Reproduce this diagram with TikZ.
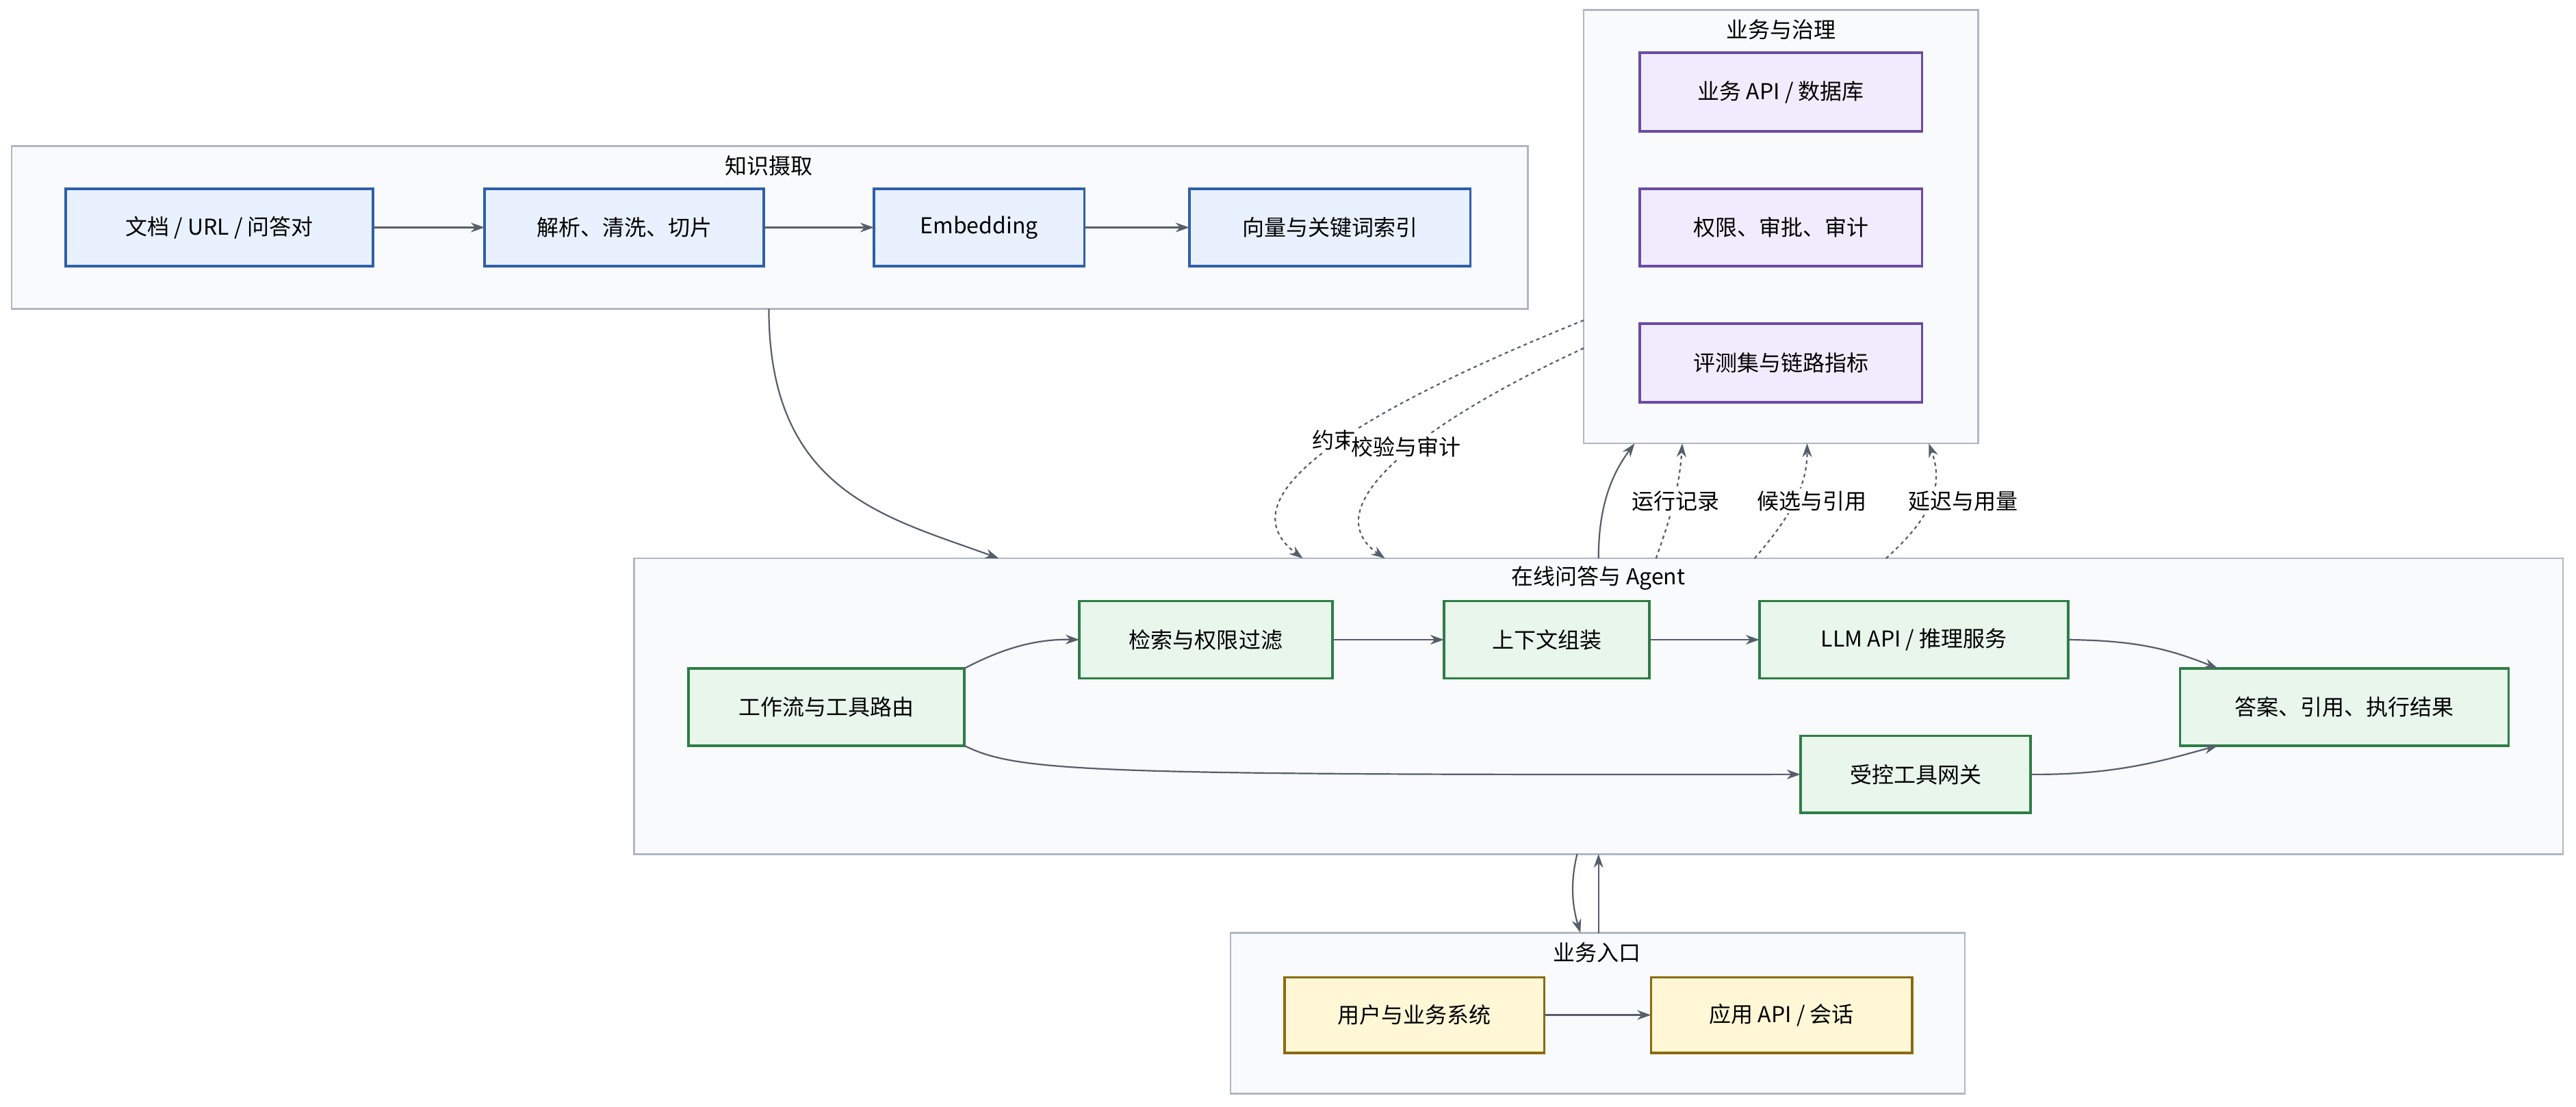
\documentclass[tikz,border=0pt]{standalone}
\usepackage{fontspec}
\setmainfont{Noto Sans CJK SC}
\usetikzlibrary{arrows.meta}
\definecolor{grpf}{HTML}{F8FAFC}\definecolor{grpd}{HTML}{B0B7C3}
\definecolor{bf}{HTML}{E8F1FD}\definecolor{bd}{HTML}{2F5FA8}
\definecolor{pf}{HTML}{F1ECFD}\definecolor{pd}{HTML}{6B4BA3}
\definecolor{gf}{HTML}{E8F6EC}\definecolor{gd}{HTML}{2E7D45}
\definecolor{yf}{HTML}{FFF7D6}\definecolor{yd}{HTML}{8B6A10}
\definecolor{ln}{HTML}{555E6B}
\begin{document}
\begin{tikzpicture}[x=2.4pt,y=-2.4pt,
 every node/.style={font=\fontsize{32}{38}\selectfont},
 grp/.style={draw=grpd,fill=grpf,line width=2.6pt},
 box/.style={line width=3.6pt},
 bx/.style={box,draw=bd,fill=bf},px/.style={box,draw=pd,fill=pf},
 gx/.style={box,draw=gd,fill=gf},yx/.style={box,draw=yd,fill=yf},
 arr/.style={draw=ln,line width=2.2pt,-{Stealth[length=20pt,width=14pt]}},
 dot/.style={arr,dash pattern=on 5pt off 5pt},
 lab/.style={fill=white,inner sep=3pt}]
\useasboundingbox (0,0) rectangle (1568,674);
\def\R#1#2#3#4#5#6#7{\path[#6] (#2,#3) rectangle (#4,#5); \node (#1) at ({(#2+#4)/2},{(#3+#5)/2}) [minimum width={(#4-#2)*2.4pt},minimum height={(#5-#3)*2.4pt},inner sep=0pt] {#7};}
% groups
\R{gk}{7}{89}{930}{188}{grp}{}
\node at (468,101) {知识摄取};
\R{gg}{964}{6}{1204}{270}{grp}{}
\node at (1084,18) {业务与治理};
\R{go}{386}{340}{1560}{520}{grp}{}
\node at (973,352) {在线问答与 Agent};
\R{ge}{749}{568}{1196}{666}{grp}{}
\node at (972,580) {业务入口};
% nodes
\R{a1}{40}{115}{227}{162}{bx}{文档 / URL / 问答对}
\R{a2}{295}{115}{465}{162}{bx}{解析、清洗、切片}
\R{a3}{532}{115}{660}{162}{bx}{Embedding}
\R{a4}{724}{115}{895}{162}{bx}{向量与关键词索引}
\R{p1}{998}{32}{1170}{80}{px}{业务 API / 数据库}
\R{p2}{998}{115}{1170}{162}{px}{权限、审批、审计}
\R{p3}{998}{197}{1170}{245}{px}{评测集与链路指标}
\R{w}{419}{407}{587}{454}{gx}{工作流与工具路由}
\R{s}{657}{366}{811}{413}{gx}{检索与权限过滤}
\R{c}{879}{366}{1004}{413}{gx}{上下文组装}
\R{l}{1071}{366}{1259}{413}{gx}{LLM API / 推理服务}
\R{t}{1096}{448}{1236}{495}{gx}{受控工具网关}
\R{ans}{1327}{407}{1527}{454}{gx}{答案、引用、执行结果}
\R{u}{782}{595}{940}{641}{yx}{用户与业务系统}
\R{ap}{1005}{595}{1164}{641}{yx}{应用 API / 会话}
% edges
\draw[arr] (a1)--(a2); \draw[arr] (a2)--(a3); \draw[arr] (a3)--(a4);
\draw[arr] (s)--(c); \draw[arr] (c)--(l); \draw[arr] (u)--(ap);
\draw[arr] (w.north east) .. controls (610,395) and (630,389) .. (s.west);
\draw[arr] (w.south east) .. controls (620,470) and (660,472) .. (t.west);
\draw[arr] (l.east) .. controls (1300,390) and (1320,395) .. (1350,407);
\draw[arr] (t.east) .. controls (1290,472) and (1320,462) .. (1350,454);
\draw[arr] (468,188) .. controls (468,300) and (540,315) .. (608,340);
% governance dotted
\draw[dot] (964,195) .. controls (840,245) and (740,300) .. (793,340);
\draw[dot] (964,212) .. controls (860,260) and (800,310) .. (843,340);
\node[lab] at (812,268) {约束};
\node[lab] at (856,272) {校验与审计};
\draw[arr] (973,340) .. controls (973,310) and (980,290) .. (995,270);
\draw[dot] (1008,340) .. controls (1015,320) and (1022,300) .. (1024,270);
\draw[dot] (1068,340) .. controls (1085,320) and (1100,300) .. (1100,270);
\draw[dot] (1148,340) .. controls (1170,320) and (1185,300) .. (1174,270);
\node[lab] at (1020,305) {运行记录};
\node[lab] at (1103,305) {候选与引用};
\node[lab] at (1195,305) {延迟与用量};
% entry
\draw[arr] (960,520) .. controls (955,540) and (958,555) .. (962,568);
\draw[arr] (973,568) -- (973,520);
\end{tikzpicture}
\end{document}
